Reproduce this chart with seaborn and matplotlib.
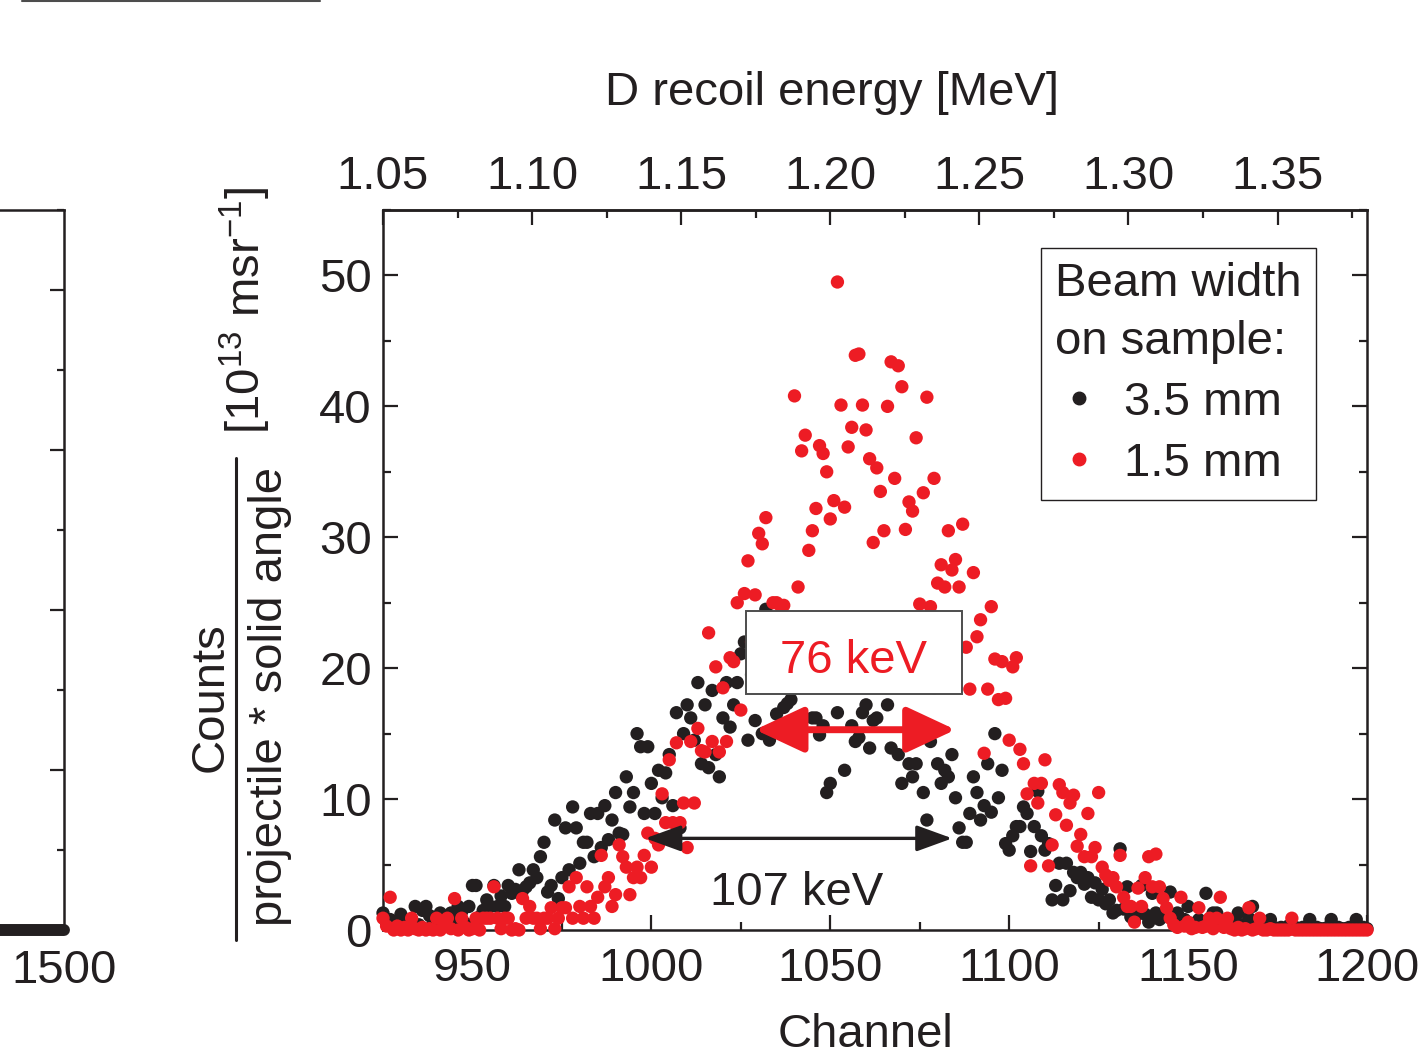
import numpy as np
import pandas as pd
import matplotlib
matplotlib.use("Agg")
import matplotlib.pyplot as plt
import seaborn as sns
from matplotlib.lines import Line2D
from matplotlib.patches import Rectangle, FancyArrowPatch
from matplotlib.ticker import MultipleLocator, FixedLocator, FormatStrFormatter

# ---------------- data ----------------
channel = np.arange(925, 1201)

counts_35mm = [
    1.3, 0.5, 0.8, 0.2, 0.3, 1.2, 0.5, 0.1, 0.8, 1.8,      # 925
    0.4, 1.5, 1.8, 1.1, 0.5, 0.8, 1.3, 0.6, 1.0, 1.3,      # 935
    0.6, 1.8, 1.4, 0.5, 1.8, 3.4, 3.4, 1.0, 1.5, 2.3,      # 945
    1.8, 3.4, 1.8, 2.6, 1.8, 3.4, 2.8, 3.1, 4.6, 3.0,      # 955
    3.3, 3.6, 4.6, 4.0, 5.6, 6.7, 2.9, 3.4, 8.4, 2.4,      # 965
    4.0, 7.8, 4.6, 9.4, 7.8, 5.1, 6.7, 6.7, 8.9, 5.6,      # 975
    8.9, 6.3, 9.5, 6.9, 8.4, 10.5, 7.4, 7.3, 11.7, 9.4,    # 985
    10.5, 15.0, 14.0, 8.9, 14.0, 11.2, 8.9, 12.2, 10.1, 12.0,   # 995
    13.4, 9.5, 16.6, 7.8, 15.0, 17.2, 16.2, 14.5, 18.9, 12.7,   # 1005
    17.2, 12.4, 18.3, 13.4, 11.7, 16.2, 18.9, 15.5, 17.2, 18.9, # 1015
    21.1, 22.0, 14.5, 19.5, 16.0, 21.5, 15.0, 24.5, 14.5, 19.0, # 1025
    16.5, 20.0, 17.0, 17.3, 17.6, 19.5, 22.0, 19.0, 23.0, 20.5, # 1035
    16.2, 16.2, 14.9, 15.6, 10.5, 11.2, 21.0, 16.6, 19.5, 12.2, # 1045
    22.5, 15.6, 14.4, 14.7, 16.6, 17.2, 13.9, 16.0, 16.2, 20.5, # 1055
    19.0, 17.2, 13.9, 21.0, 13.4, 11.2, 22.0, 12.7, 11.7, 12.7, # 1065
    19.0, 10.5, 8.4, 14.4, 18.5, 12.7, 11.2, 12.2, 11.7, 13.4,  # 1075
    10.1, 7.8, 6.7, 6.7, 8.9, 11.7, 10.5, 8.4, 9.5, 12.7,       # 1085
    9.0, 15.0, 10.1, 12.2, 6.6, 6.1, 7.2, 7.9, 7.9, 9.4,        # 1095
    8.9, 6.0, 7.9, 10.6, 7.2, 6.1, 6.6, 2.3, 3.4, 5.1,          # 1105
    2.3, 5.1, 3.0, 4.4, 4.0, 4.4, 3.5, 4.0, 2.5, 3.6,           # 1115
    2.3, 3.1, 2.0, 2.3, 1.3, 1.5, 6.2, 1.6, 3.3, 1.0,           # 1125
    0.8, 1.5, 3.4, 1.2, 0.6, 2.8, 1.3, 0.8, 1.0, 1.5,           # 1135
    2.9, 0.8, 1.3, 0.5, 0.8, 1.8, 0.5, 0.3, 0.8, 0.4,           # 1145
    2.8, 0.5, 1.3, 1.3, 0.4, 0.3, 0.5, 0.3, 0.5, 1.3,           # 1155
    0.4, 0.3, 0.9, 1.8, 0.3, 0.2, 0.3, 0.2, 0.8, 0.2,           # 1165
    0.1, 0.2, 0.1, 0.3, 0.1, 0.2, 0.1, 0.2, 0.1, 0.8,           # 1175
    0.1, 0.2, 0.1, 0.1, 0.2, 0.8, 0.1, 0.2, 0.1, 0.1,           # 1185
    0.2, 0.1, 0.8, 0.1, 0.2, 0.1,                               # 1195
]

counts_15mm = [
    0.9, 0.3, 2.5, 0.0, 0.3, 0.0, 0.2, 0.0, 0.9, 0.1,      # 925
    0.0, 0.2, 0.0, 0.1, 0.0, 0.9, 0.0, 0.3, 0.9, 0.1,      # 935
    2.4, 0.0, 0.9, 0.2, 0.0, 0.1, 0.9, 0.0, 0.9, 0.9,      # 945
    0.9, 3.3, 0.9, 0.1, 0.9, 0.9, 0.0, 0.1, 0.0, 2.4,      # 955
    0.9, 1.8, 0.9, 0.9, 0.1, 0.9, 0.9, 1.7, 0.1, 0.9,      # 965
    1.7, 1.7, 3.3, 0.9, 4.0, 1.8, 0.9, 3.3, 1.8, 0.9,      # 975
    2.5, 5.7, 3.3, 4.0, 1.8, 2.7, 6.5, 5.6, 4.8, 2.7,      # 985
    4.0, 4.8, 4.0, 5.7, 7.4, 4.8, 7.0, 6.5, 10.4, 8.2,     # 995
    13.0, 8.2, 14.3, 8.2, 9.7, 6.3, 14.4, 9.7, 15.4, 13.7,      # 1005
    13.6, 22.7, 14.4, 20.1, 13.6, 18.5, 14.4, 20.8, 20.5, 25.0, # 1015
    16.8, 25.7, 28.2, 22.0, 25.6, 30.3, 29.5, 31.5, 21.0, 25.0, # 1025
    25.0, 24.8, 24.8, 22.0, 19.5, 40.8, 26.2, 36.6, 37.8, 29.0, # 1035
    30.5, 32.2, 37.0, 36.4, 35.0, 31.4, 32.8, 49.5, 40.1, 32.3, # 1045
    36.9, 38.4, 43.9, 44.0, 40.1, 38.2, 36.0, 29.6, 35.3, 33.5, # 1055
    30.5, 40.0, 43.4, 34.5, 43.1, 41.5, 30.6, 32.7, 32.0, 37.6, # 1065
    24.9, 33.4, 40.7, 24.7, 34.5, 26.5, 27.9, 26.2, 30.5, 27.5, # 1075
    28.3, 26.2, 31.0, 21.6, 18.4, 27.3, 22.4, 23.7, 13.5, 18.4, # 1085
    24.7, 20.7, 17.6, 20.5, 17.7, 14.5, 20.1, 20.8, 13.8, 12.7, # 1095
    10.4, 4.9, 11.2, 9.7, 11.2, 13.0, 4.9, 6.5, 8.8, 11.1,      # 1105
    10.5, 8.0, 9.7, 10.3, 6.4, 7.3, 5.6, 8.9, 5.6, 6.3,         # 1115
    10.5, 4.8, 4.2, 3.8, 4.0, 3.3, 5.7, 2.5, 1.8, 1.8,          # 1125
    0.6, 3.2, 1.8, 4.0, 5.6, 3.3, 5.8, 3.3, 2.4, 1.7,           # 1135
    0.9, 0.4, 0.2, 2.5, 0.3, 0.6, 0.1, 0.2, 1.7, 0.2,           # 1145
    0.3, 0.9, 0.1, 0.9, 2.5, 0.2, 0.9, 0.1, 0.0, 0.2,           # 1155
    0.0, 0.1, 1.7, 0.0, 0.1, 0.9, 0.0, 0.0, 0.1, 0.0,           # 1165
    0.0, 0.0, 0.0, 0.0, 0.9, 0.0, 0.0, 0.0, 0.0, 0.0,           # 1175
    0.0, 0.0, 0.0, 0.0, 0.0, 0.0, 0.0, 0.0, 0.0, 0.0,           # 1185
    0.0, 0.0, 0.0, 0.0, 0.0, 0.0,                               # 1195
]

beam_labels = ["3.5 mm", "1.5 mm"]
energy_ticks = [1.05, 1.10, 1.15, 1.20, 1.25, 1.30, 1.35]
energy_minor = [1.075, 1.125, 1.175, 1.225, 1.275, 1.325, 1.375]

# left (cropped) neighbour panel
left_channel = [0, 1500]
left_counts = [0, 0]

# annotations
red_fwhm = (1029.0, 1085.0, 15.3)
black_fwhm = (998.3, 1084.1, 7.0)
red_label = "76 keV"
black_label = "107 keV"

# ---------------- styling ----------------
BLACK = "#231F20"
RED = "#ED1C24"
FS = 34

sns.set_style("ticks")
plt.rcParams["font.family"] = ["Liberation Sans", "DejaVu Sans"]
plt.rcParams["mathtext.fontset"] = "custom"
plt.rcParams["mathtext.rm"] = "Liberation Sans"
plt.rcParams["mathtext.it"] = "Liberation Sans:italic"
plt.rcParams["text.color"] = BLACK

W, H = 1418, 1051
fig = plt.figure(figsize=(W / 100, H / 100), dpi=100)


def fx(px):
    return px / W


def fy(py):
    return 1 - py / H


ax_b, ax_t = fy(930), fy(210)
ax = fig.add_axes([fx(383), ax_b, fx(1367) - fx(383), ax_t - ax_b])

df = pd.DataFrame({
    "channel": np.concatenate([channel, channel]),
    "counts": np.concatenate([counts_35mm, counts_15mm]),
    "beam": [beam_labels[0]] * len(channel) + [beam_labels[1]] * len(channel),
})
palette = {beam_labels[0]: BLACK, beam_labels[1]: RED}
sns.scatterplot(data=df, x="channel", y="counts", hue="beam", palette=palette,
                hue_order=beam_labels, s=92, linewidth=0, legend=False,
                ax=ax, zorder=3, clip_on=False)

ax.set_xlim(925, 1200)
ax.set_ylim(0, 55)
ax.xaxis.set_major_locator(MultipleLocator(50))
ax.xaxis.set_minor_locator(MultipleLocator(25))
ax.yaxis.set_major_locator(MultipleLocator(10))
ax.yaxis.set_minor_locator(MultipleLocator(5))
ax.tick_params(which="both", direction="in", right=True, top=False,
               width=1.6, color=BLACK, labelcolor=BLACK)
ax.tick_params(which="major", length=11, pad=8, labelsize=FS)
ax.tick_params(axis="x", which="major", pad=12)
ax.tick_params(which="minor", length=6)
for sp in ax.spines.values():
    sp.set_linewidth(1.8)
    sp.set_color(BLACK)
    sp.set_zorder(2.5)

ax.set_ylabel("")
ax.set_xlabel("Channel", fontsize=FS, color=BLACK)
ax.xaxis.set_label_coords((866 - 383) / 984, (930 - 1013) / 720)

# top energy axis
def ch2e(c):
    return 1.05 + (np.asarray(c) - 925) * 0.0012


def e2ch(e):
    return 925 + (np.asarray(e) - 1.05) / 0.0012


secax = ax.secondary_xaxis("top", functions=(ch2e, e2ch))
secax.xaxis.set_major_locator(FixedLocator(energy_ticks))
secax.xaxis.set_minor_locator(FixedLocator(energy_minor))
secax.xaxis.set_major_formatter(FormatStrFormatter("%.2f"))
secax.tick_params(which="both", direction="in", width=1.6, color=BLACK, labelcolor=BLACK)
secax.tick_params(which="major", length=11, pad=8, labelsize=FS)
secax.tick_params(which="minor", length=6)
secax.spines["top"].set_linewidth(1.8)
fig.text(fx(832), fy(105), "D recoil energy [MeV]", fontsize=FS, ha="center",
         va="baseline", color=BLACK)

# legend
handles = [Line2D([], [], ls="none", marker="o", ms=9, color=palette[b], label=b)
           for b in beam_labels]
leg = ax.legend(handles=handles, title="Beam width\non sample:", loc="upper right",
                bbox_to_anchor=((1316 - 383) / 984, (930 - 248) / 720),
                fontsize=FS, title_fontsize=FS, frameon=True, fancybox=False,
                edgecolor=BLACK, framealpha=1, borderpad=0.3, handlelength=1.0,
                handletextpad=0.45, labelspacing=0.36, alignment="left",
                borderaxespad=0)
leg.get_title().set_linespacing(1.4)
leg.get_frame().set_linewidth(1.0)
leg.set_zorder(7)

# FWHM annotations
box = Rectangle((1026.5, 18.0), 60.4, 6.35, facecolor="white", edgecolor="#4D4D4D",
                linewidth=1.4, zorder=5)
ax.add_patch(box)
ax.text(1056.4, 19.6, red_label, color=RED, fontsize=FS, ha="center", va="baseline", zorder=6)
ax.text(1040.5, 1.9, black_label, color=BLACK, fontsize=FS, ha="center", va="baseline", zorder=6)

ax.add_patch(FancyArrowPatch((red_fwhm[0], red_fwhm[2]), (red_fwhm[1], red_fwhm[2]),
                             arrowstyle="<|-|>,head_length=30,head_width=14",
                             mutation_scale=1, lw=5, color=RED, shrinkA=0, shrinkB=0,
                             zorder=6))
ax.add_patch(FancyArrowPatch((black_fwhm[0], black_fwhm[2]), (black_fwhm[1], black_fwhm[2]),
                             arrowstyle="<|-|>,head_length=22,head_width=8",
                             mutation_scale=1, lw=2.4, color=BLACK, shrinkA=0, shrinkB=0,
                             zorder=6))

# composite y label
fig.text(fx(223), fy(697), "Counts", fontsize=FS, rotation=90, rotation_mode="anchor",
         ha="center", va="baseline", color=BLACK)
fig.text(fx(282), fy(697), "projectile * solid angle", fontsize=FS, rotation=90,
         rotation_mode="anchor", ha="center", va="baseline", color=BLACK)
fig.text(fx(260), fy(310), r"[10$^{13}$ msr$^{-1}$]", fontsize=FS, rotation=90,
         rotation_mode="anchor", ha="center", va="baseline", color=BLACK)
fig.add_artist(Line2D([fx(236), fx(236)], [fy(458), fy(940)], color=BLACK, lw=2.2,
                      transform=fig.transFigure))

# cropped neighbouring panel on the left
axl = fig.add_axes([fx(-800), ax_b, fx(64) - fx(-800), ax_t - ax_b])
sns.lineplot(x=left_channel, y=left_counts, ax=axl, color=BLACK, lw=8.6,
             solid_capstyle="round", clip_on=False, zorder=3)
axl.set_xlim(0, 1500)
axl.set_ylim(0, 9)
axl.set_xticks([1500])
axl.yaxis.set_major_locator(MultipleLocator(2))
axl.yaxis.set_minor_locator(MultipleLocator(1))
axl.tick_params(axis="x", length=0, pad=14, labelsize=FS, labelcolor=BLACK)
axl.tick_params(axis="y", which="both", direction="in", left=False, labelleft=False,
                right=True, width=1.6, color=BLACK)
axl.tick_params(axis="y", which="major", length=10)
axl.tick_params(axis="y", which="minor", length=5)
for sp in axl.spines.values():
    sp.set_linewidth(1.8)
    sp.set_color(BLACK)
for lbl in axl.get_xticklabels():
    lbl.set_x(lbl.get_position()[0])

# stray line at the very top (edge of an element above)
fig.add_artist(Line2D([fx(22), fx(320)], [fy(0.8), fy(0.8)], color="#4D4D4D", lw=1.5,
                      transform=fig.transFigure))

fig.savefig("out.png", dpi=100)
